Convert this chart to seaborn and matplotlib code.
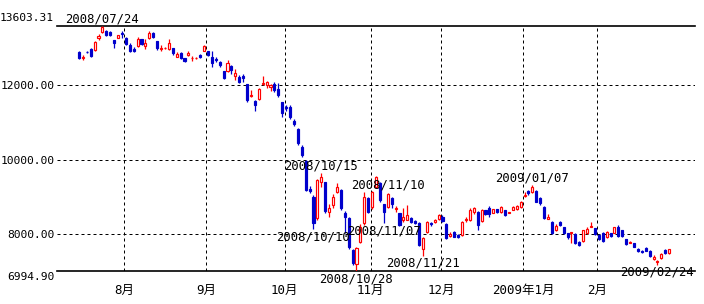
import matplotlib
matplotlib.use("Agg")
import matplotlib.pyplot as plt
import matplotlib.transforms as mtrans
import numpy as np
import pandas as pd
import seaborn as sns

# ---------------- data ----------------
dates = (
    ["2008-07-%02d" % d for d in [15, 16, 17, 18, 22, 23, 24, 25, 28, 29, 30, 31]]
    + ["2008-08-%02d" % d for d in [1, 4, 5, 6, 7, 8, 11, 12, 13, 14, 15, 18, 19, 20, 21, 22, 25, 26, 27, 28, 29]]
    + ["2008-09-%02d" % d for d in [1, 2, 3, 4, 5, 8, 9, 10, 11, 12, 16, 17, 18, 19, 22, 24, 25, 26, 29, 30]]
    + ["2008-10-%02d" % d for d in [1, 2, 3, 6, 7, 8, 9, 10, 14, 15, 16, 17, 20, 21, 22, 23, 24, 27, 28, 29, 30, 31]]
    + ["2008-11-%02d" % d for d in [4, 5, 6, 7, 10, 11, 12, 13, 14, 17, 18, 19, 20, 21, 25, 26, 27, 28]]
    + ["2008-12-%02d" % d for d in [1, 2, 3, 4, 5, 8, 9, 10, 11, 12, 15, 16, 17, 18, 19, 22, 24, 25, 26, 29, 30]]
    + ["2009-01-%02d" % d for d in [5, 6, 7, 8, 9, 13, 14, 15, 16, 19, 20, 21, 22, 23, 26, 27, 28, 29, 30]]
    + ["2009-02-%02d" % d for d in [2, 3, 4, 5, 6, 9, 10, 12, 13, 16, 17, 18, 19, 20, 23, 24, 25, 26, 27]]
)

opens = [
    12902, 12745, 12905, 12991, 12956, 13272, 13441, 13460, 13441, 13226, 13280, 13413,
    13280, 13100, 12991, 13064, 13244, 13064, 13280, 13406, 13208, 12995, 13000, 12991, 13010, 12776, 12866, 12740, 12812, 12730, 12740, 12821, 12937,
    12937, 12776, 12720, 12632, 12381, 12381, 12524, 12255, 12237, 12255, 12039, 11720, 11589, 11642, 12040, 12021, 11950, 12039, 11895, 11553,
    11410, 11427, 11049, 10816, 10348, 9970, 9200, 9000, 8420, 9405, 9390, 8595, 8775, 9135, 9180, 8551, 8416, 7561, 7176, 7786, 8281, 8955,
    8720, 9270, 9360, 8794, 8730, 8955, 8670, 8550, 8370, 8380, 8416, 8340, 8298, 7580, 8057, 8300, 8320, 8390,
    8461, 8262, 7950, 8057, 7966, 7966, 8370, 8361, 8586, 8586, 8343, 8631, 8685, 8568, 8658, 8595, 8640, 8570, 8640, 8658, 8712,
    9030, 9153, 9135, 9162, 8955, 8730, 8410, 8325, 8100, 8325, 8174, 8012, 8030, 8003, 7786, 7795, 8012, 8190, 8147,
    7966, 8030, 7903, 8012, 8030, 8190, 8093, 7849, 7760, 7742, 7600, 7530, 7624, 7543, 7327, 7250, 7345, 7561, 7471,
]
closes = [
    12748, 12760, 12890, 12794, 13172, 13334, 13585, 13352, 13352, 13136, 13352, 13385,
    13118, 12937, 12920, 13244, 13118, 13154, 13423, 13298, 13010, 13005, 13015, 13154, 12866, 12848, 12740, 12650, 12884, 12745, 12750, 12767, 13064,
    12830, 12614, 12690, 12560, 12201, 12614, 12416, 12327, 12093, 12201, 11607, 11740, 11481, 11913, 12057, 12093, 12021, 11877, 11734, 11248,
    11380, 11157, 10952, 10438, 10124, 9180, 9160, 8280, 9440, 9522, 8600, 8686, 8983, 9270, 8686, 8461, 7651, 7203, 7606, 8190, 9000, 8595,
    9114, 9521, 8899, 8583, 9063, 8790, 8695, 8238, 8462, 8500, 8330, 8300, 7703, 7876, 8323, 8250, 8373, 8500,
    8353, 7876, 7980, 7921, 7903, 8325, 8395, 8649, 8694, 8226, 8649, 8541, 8541, 8658, 8586, 8730, 8505, 8585, 8712, 8748, 8856,
    9050, 9090, 9252, 8865, 8820, 8416, 8438, 8030, 8208, 8235, 8030, 7921, 8051, 7745, 7697, 8093, 8129, 8220, 7994,
    7849, 7804, 8057, 7939, 8174, 7939, 7939, 7714, 7775, 7651, 7540, 7510, 7543, 7399, 7381, 7268, 7453, 7471, 7579,
]
highs = [
    12940, 12814, 12937, 13010, 13190, 13388, 13603.31, 13500, 13480, 13226, 13370, 13477,
    13320, 13136, 13050, 13300, 13260, 13244, 13477, 13440, 13208, 13100, 13040, 13260, 13010, 12900, 12900, 12740, 12940, 12790, 12770, 12860, 13100,
    12937, 12937, 12776, 12670, 12400, 12690, 12560, 12440, 12270, 12310, 12039, 11877, 11600, 11930, 12255, 12110, 12050, 12100, 12057, 11553,
    11464, 11481, 11100, 10840, 10400, 10000, 9300, 9050, 9480, 9630, 9400, 8790, 9060, 9360, 9200, 8600, 8450, 7600, 7650, 8260, 9130, 9000,
    9150, 9560, 9400, 8800, 9100, 8980, 8755, 8560, 8690, 8780, 8440, 8370, 8310, 7920, 8350, 8330, 8410, 8540,
    8500, 8280, 8057, 8080, 7990, 8340, 8461, 8690, 8720, 8600, 8670, 8650, 8740, 8680, 8680, 8750, 8650, 8590, 8760, 8770, 8880,
    9135, 9180, 9306, 9180, 8990, 8740, 8520, 8340, 8250, 8340, 8190, 8030, 8060, 8010, 7800, 8110, 8180, 8316, 8160,
    7990, 8040, 8070, 8030, 8190, 8230, 8100, 7860, 7800, 7760, 7620, 7560, 7640, 7560, 7420, 7280, 7470, 7600, 7600,
]
lows = [
    12700, 12678, 12866, 12775, 12937, 13226, 13406, 13330, 13330, 13010, 13270, 13280,
    13090, 12902, 12900, 13030, 13090, 12975, 13250, 13290, 12960, 12937, 12990, 12950, 12830, 12760, 12720, 12620, 12790, 12660, 12720, 12740, 12920,
    12800, 12506, 12630, 12500, 12165, 12360, 12300, 12160, 12060, 12090, 11553, 11700, 11319, 11600, 12010, 11920, 11850, 11830, 11700, 11157,
    11319, 11100, 10900, 10394, 10070, 9140, 9100, 8115, 8380, 9270, 8560, 8460, 8700, 9090, 8650, 8011, 7600, 7157, 6994.90, 7740, 8240, 8550,
    8680, 9230, 8850, 8280, 8700, 8700, 8595, 8200, 8320, 8360, 8300, 8270, 7680, 7400, 8030, 8200, 8300, 8370,
    8330, 7850, 7903, 7900, 7880, 7950, 8325, 8340, 8530, 8101, 8320, 8510, 8450, 8550, 8560, 8570, 8490, 8565, 8630, 8640, 8700,
    9000, 9040, 9110, 8850, 8780, 8400, 8390, 8000, 8080, 8200, 8000, 7850, 7742, 7720, 7670, 7780, 7990, 8170, 7970,
    7830, 7780, 7890, 7920, 8020, 7920, 7920, 7690, 7740, 7630, 7520, 7480, 7530, 7380, 7300, 7157, 7330, 7450, 7460,
]

month_labels = ["8月", "9月", "10月", "11月", "12月", "2009年1月", "2月"]
month_first_days = ["2008-08-01", "2008-09-01", "2008-10-01", "2008-11-04",
                    "2008-12-01", "2009-01-05", "2009-02-02"]

ann_dates = ["2008-07-24", "2008-10-15", "2008-10-10", "2008-11-10", "2008-11-07",
             "2008-10-28", "2008-11-21", "2009-01-07", "2009-02-24"]
ann_kinds = ["high", "high", "low", "high", "low", "low", "low", "high", "low"]

grid_levels = [8000.00, 10000.00, 12000.00]
y_bottom, y_top = 6994.90, 13603.31

# ---------------- frame ----------------
df = pd.DataFrame({"date": dates, "open": opens, "high": highs,
                   "low": lows, "close": closes})
df["i"] = np.arange(len(df))
df["up"] = df["close"] >= df["open"]

sns.set_theme(style="white")
plt.rcParams["font.family"] = ["DejaVu Sans Mono", "Noto Sans CJK JP"]

RED = "#ff0000"
BLUE = "#0000cc"
YFS = 8.1

fig = plt.figure(figsize=(7.04, 3.04), dpi=100)
ax = fig.add_axes([57 / 704, 33 / 304, 638 / 704, 245 / 304])
ax.set_facecolor("white")

colors = np.where(df["up"], RED, BLUE)
ax.vlines(df["i"], df["low"], df["high"], colors=colors, lw=0.9, zorder=3)
body_bottom = np.minimum(df["open"], df["close"])
body_h = (df["open"] - df["close"]).abs()
face = np.where(df["up"], "white", BLUE)
ax.bar(df["i"], body_h, bottom=body_bottom, width=0.52, color=face,
       edgecolor=colors, linewidth=0.85, zorder=4)

ax.set_xlim(-5.62, 157.6)
ax.set_ylim(y_bottom, y_top)

# month grid / labels
pos = {d: i for i, d in enumerate(dates)}
xt = [pos[d] - 0.4 for d in month_first_days]
ax.set_xticks(xt)
ax.set_xticklabels(month_labels, fontsize=9)
ax.set_yticks(grid_levels)
ax.set_yticklabels(["%.2f" % v for v in grid_levels], fontsize=YFS)
ax.tick_params(axis="both", length=0, colors="black")
ax.tick_params(axis="x", pad=9)
ax.tick_params(axis="y", pad=2)
ax.grid(True, color="black", linewidth=0.72, linestyle=(0, (3, 3)), zorder=1)

for s in ["left", "right"]:
    ax.spines[s].set_visible(False)
for s in ["top", "bottom"]:
    ax.spines[s].set_visible(True)
    ax.spines[s].set_color("black")
    ax.spines[s].set_linewidth(1.2)

# boundary labels
trans = mtrans.blended_transform_factory(ax.transAxes, ax.transData)
off = mtrans.offset_copy(trans, fig=fig, x=-3, y=3, units="dots")
ax.text(0, y_top, "%.2f" % y_top, transform=off, ha="right", va="bottom",
        fontsize=YFS, color="black")
off2 = mtrans.offset_copy(trans, fig=fig, x=-3, y=-1, units="dots")
ax.text(0, y_bottom, "%.2f" % y_bottom, transform=off2, ha="right", va="top",
        fontsize=YFS, color="black")

# extreme point annotations
for d, k in zip(ann_dates, ann_kinds):
    row = df.loc[pos[d]]
    label = d.replace("-", "/")
    if k == "high":
        ax.annotate(label, (row["i"], row["high"]), xytext=(0, 1),
                    textcoords="offset pixels", ha="center", va="bottom",
                    fontsize=8.8, color="black", zorder=6, annotation_clip=False)
    else:
        ax.annotate(label, (row["i"], row["low"]), xytext=(0, -1),
                    textcoords="offset pixels", ha="center", va="top",
                    fontsize=8.8, color="black", zorder=6, annotation_clip=False)

fig.savefig("out.png", dpi=100, facecolor="white")
